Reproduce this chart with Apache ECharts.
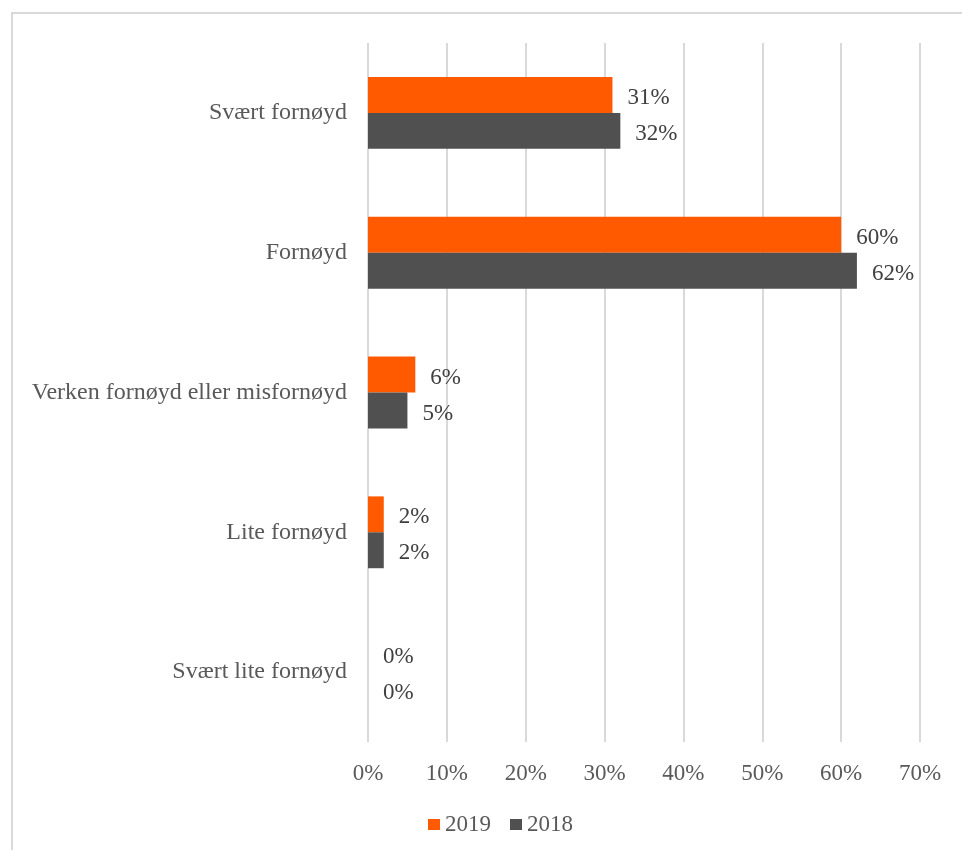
<!DOCTYPE html>
<html>
<head>
<meta charset="utf-8">
<script src="https://cdn.jsdelivr.net/npm/echarts@6/dist/echarts.min.js"></script>
<style>
  html, body { margin: 0; padding: 0; background: #fff; }
  #chart { width: 962px; height: 850px; }
</style>
</head>
<body>
<div id="chart"></div>
<script>
// Satisfaction categories, top to bottom
const categories = [
  'Svært fornøyd',
  'Fornøyd',
  'Verken fornøyd eller misfornøyd',
  'Lite fornøyd',
  'Svært lite fornøyd'
];
// Share of respondents (%) per year
const values2019 = [31, 60, 6, 2, 0];
const values2018 = [32, 62, 5, 2, 0];
const seriesNames = ['2019', '2018'];
const seriesColors = ['#FF5A00', '#505050'];

const FONT = '"Liberation Serif", "Times New Roman", serif';

const labelStyle = {
  show: true,
  position: 'right',
  distance: 15,
  offset: [0, 3],
  formatter: '{c}%',
  fontFamily: FONT,
  fontSize: 23,
  color: '#404040'
};

const chart = echarts.init(document.getElementById('chart'), null, { renderer: 'canvas' });

chart.setOption({
  animation: false,
  backgroundColor: '#ffffff',
  graphic: [{
    type: 'rect',
    silent: true,
    shape: { x: 12, y: 13, width: 1000, height: 1000 },
    style: { fill: 'none', stroke: '#d9d9d9', lineWidth: 2 }
  }],
  grid: { left: 368, right: 42, top: 43, bottom: 108, containLabel: false },
  legend: {
    data: seriesNames,
    left: 423,
    top: 808,
    icon: 'rect',
    itemWidth: 12,
    itemHeight: 11,
    itemGap: 19,
    textStyle: { fontFamily: FONT, fontSize: 23, color: '#595959' }
  },
  xAxis: {
    type: 'value',
    min: 0,
    max: 70,
    interval: 10,
    axisLine: { show: false },
    axisTick: { show: false },
    splitLine: { show: true, lineStyle: { color: '#d9d9d9', width: 2 } },
    axisLabel: {
      formatter: '{value}%',
      margin: 20,
      fontFamily: FONT,
      fontSize: 23,
      color: '#595959'
    }
  },
  yAxis: {
    type: 'category',
    data: categories,
    inverse: true,
    axisLine: { show: false },
    axisTick: { show: false },
    splitLine: { show: false },
    axisLabel: {
      margin: 21,
      padding: [4, 0, 0, 0],
      fontFamily: FONT,
      fontSize: 24,
      color: '#595959'
    }
  },
  series: [
    {
      name: seriesNames[0],
      type: 'bar',
      data: values2019,
      itemStyle: { color: seriesColors[0] },
      barGap: '0%',
      barCategoryGap: '48.6%',
      label: labelStyle
    },
    {
      name: seriesNames[1],
      type: 'bar',
      data: values2018,
      itemStyle: { color: seriesColors[1] },
      barGap: '0%',
      barCategoryGap: '48.6%',
      label: labelStyle
    }
  ]
});
</script>
</body>
</html>
